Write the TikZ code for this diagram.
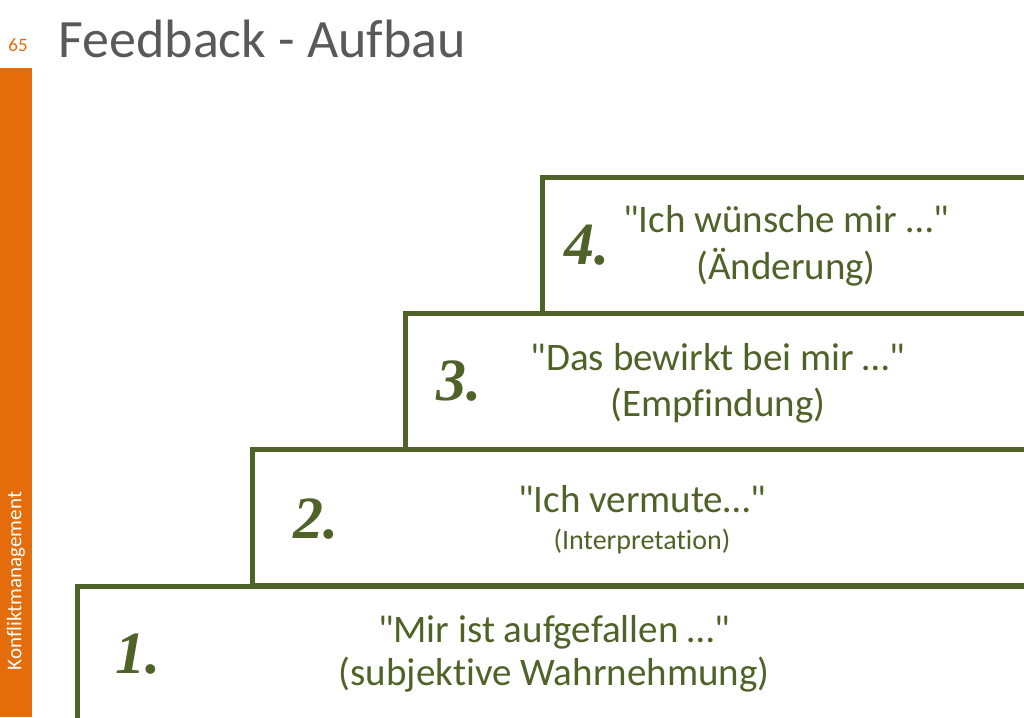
\documentclass[tikz,border=0pt]{standalone}
\usepackage{fontspec}
\setmainfont{Carlito}[Ligatures={TeXOff,NoCommon}]
\newfontfamily\numfont{Liberation Serif}
\usetikzlibrary{positioning}
\definecolor{olive}{HTML}{4F6228}
\definecolor{barorange}{HTML}{E46C0A}
\definecolor{titlegray}{HTML}{595959}
\tikzset{x=1pt, y=-1pt,
  stepbox/.style={draw=olive, line width=5pt, anchor=north west, minimum width=1000pt, minimum height=136pt, inner sep=0pt},
  num/.style={text=olive, anchor=base west, font=\numfont\bfseries\itshape\fontsize{60}{60}\selectfont},
  say/.style={text=olive, anchor=base, font=\fontsize{39}{39}\selectfont},
  small/.style={text=olive, anchor=base, font=\fontsize{28}{28}\selectfont}}

\begin{document}
\begin{tikzpicture}
  \useasboundingbox (0,0) rectangle (1024,717);
  \clip (0,0) rectangle (1024,717);
  % side bar and title
  \fill[barorange] (0,68) rectangle (32,717);
  \node[text=barorange, anchor=base, font=\fontsize{19}{19}\selectfont] (page) at (18,52) {65};
  \node[text=titlegray, anchor=base west, font=\fontsize{54}{54}\selectfont] (title) at (55,57) {Feedback - Aufbau};
  \node[text=white, rotate=90, font=\fontsize{21}{21}\selectfont] (side) at (16,581) {Konfliktmanagement};
  % steps
  \node[stepbox, minimum height=200pt] (s1) at (75,584) {};
  \node[stepbox] (s2) at (250,447) {};
  \node[stepbox] (s3) at (403,311) {};
  \node[stepbox] (s4) at (540,175) {};
  % numbers
  \node[num] (n1) at (112,673) {1.};
  \node[num] (n2) at (290,538) {2.};
  \node[num] (n3) at (433,400) {3.};
  \node[num] (n4) at (561,264) {4.};
  % texts
  \node[say] (t1a) at (554,642) {"Mir ist aufgefallen \dots"};
  \node[say] (t1b) at (554,685) {(subjektive Wahrnehmung)};
  \node[say] (t2a) at (642,512) {"Ich vermute\dots"};
  \node[small] (t2b) at (642,549) {(Interpretation)};
  \node[say] (t3a) at (718,370) {"Das bewirkt bei mir \dots"};
  \node[say] (t3b) at (718,416) {(Empfindung)};
  \node[say] (t4a) at (786,232) {"Ich wünsche mir \dots"};
  \node[say] (t4b) at (786,279) {(Änderung)};
\end{tikzpicture}
\end{document}
